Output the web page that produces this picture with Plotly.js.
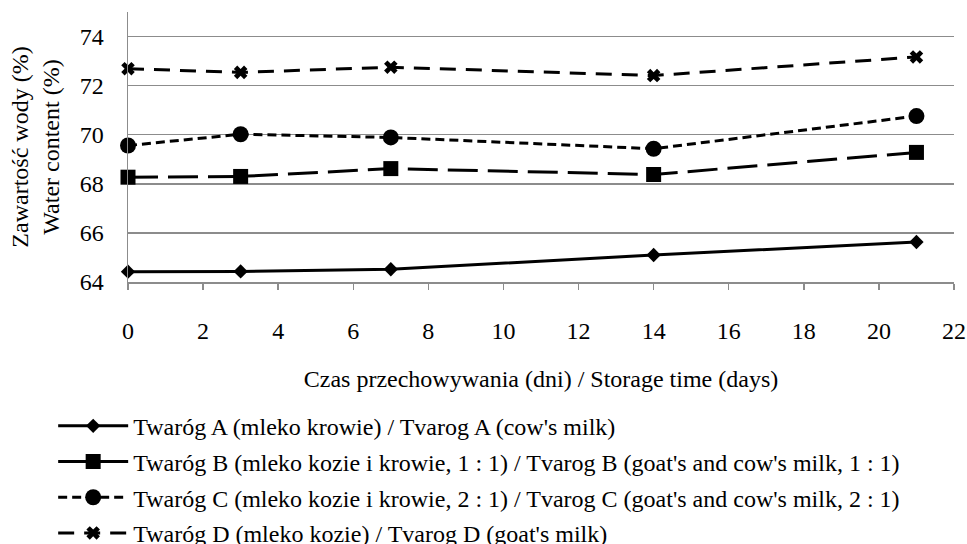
<!DOCTYPE html>
<html>
<head>
<meta charset="utf-8">
<script src="https://cdn.plot.ly/plotly-3.0.1.min.js"></script>
<style>html,body{margin:0;padding:0;background:#fff;width:967px;height:544px;overflow:hidden;}#chart{width:967px;height:560px;}</style>
</head>
<body>
<div id="chart"></div>
<script>
const days = [0, 3, 7, 14, 21];
const seriesNames = [
  "Twaróg A (mleko krowie) / Tvarog A (cow's milk)",
  "Twaróg B (mleko kozie i krowie, 1 : 1) / Tvarog B (goat's and cow's milk, 1 : 1)",
  "Twaróg C (mleko kozie i krowie, 2 : 1) / Tvarog C (goat's and cow's milk, 2 : 1)",
  "Twaróg D (mleko kozie) / Tvarog D (goat's milk)"
];
const twarogA = [64.42, 64.43, 64.52, 65.10, 65.63];
const twarogB = [68.27, 68.30, 68.62, 68.38, 69.28];
const twarogC = [69.56, 70.02, 69.89, 69.43, 70.76];
const twarogD = [72.69, 72.54, 72.75, 72.41, 73.17];

const yTickVals = [64, 66, 68, 70, 72, 74];
const xTickVals = [0, 2, 4, 6, 8, 10, 12, 14, 16, 18, 20, 22];

const FONT = "Liberation Serif";
const FS = 24;
const styles = [
  {dash: 'solid', symbol: 'diamond', size: 11},
  {dash: '30px,10px', symbol: 'square', size: 15},
  {dash: '9px,5px', symbol: 'circle', size: 16},
  {dash: '16px,10px', symbol: 'x', size: 12}
];
const values = [twarogA, twarogB, twarogC, twarogD];
const groups = ['a', 'b', 'c', 'd'];

const traces = values.map((v, i) => ({
  x: days, y: v, name: seriesNames[i], legendgroup: groups[i],
  type: 'scatter', mode: 'lines+markers', cliponaxis: false,
  line: {color: '#000', width: 3, dash: styles[i].dash},
  marker: {color: '#000', symbol: styles[i].symbol, size: styles[i].size, line: {width: 0}}
}));

const layout = {
  width: 967, height: 560,
  margin: {l: 128, r: 13, t: 12, b: 278, autoexpand: false},
  paper_bgcolor: '#fff', plot_bgcolor: '#fff',
  font: {family: FONT, size: FS, color: '#000'},
  showlegend: true,
  legend: {orientation: 'v', x: -0.0906, xanchor: 'left', y: -0.451, yanchor: 'top',
    itemwidth: 70, tracegroupgap: 1.5, font: {family: FONT, size: FS, color: '#000'}, bgcolor: 'rgba(0,0,0,0)'},
  xaxis: {range: [0, 22], tickvals: xTickVals, ticks: 'outside', ticklen: 6, tickwidth: 1.5, tickcolor: '#8c8c8c',
    showline: true, linecolor: '#8c8c8c', linewidth: 1.5, showgrid: false, zeroline: false, ticklabelstandoff: 21,
    tickfont: {family: FONT, size: FS, color: '#000'},
    title: {text: 'Czas przechowywania (dni) / Storage time (days)', font: {family: FONT, size: FS, color: '#000'}, standoff: 27}},
  yaxis: {range: [64, 75], tickvals: yTickVals, ticks: '', showline: true, linecolor: '#8c8c8c', linewidth: 1.5,
    showgrid: true, gridcolor: '#8c8c8c', gridwidth: 1.5, zeroline: false, ticklabelstandoff: 18,
    tickfont: {family: FONT, size: FS, color: '#000'},
    title: {text: 'Zawartość wody (%)<br>Water content (%)', font: {family: FONT, size: FS, color: '#000'}, standoff: 13}}
};

Plotly.newPlot('chart', traces, layout, {displayModeBar: false, staticPlot: true});
</script>
</body>
</html>
